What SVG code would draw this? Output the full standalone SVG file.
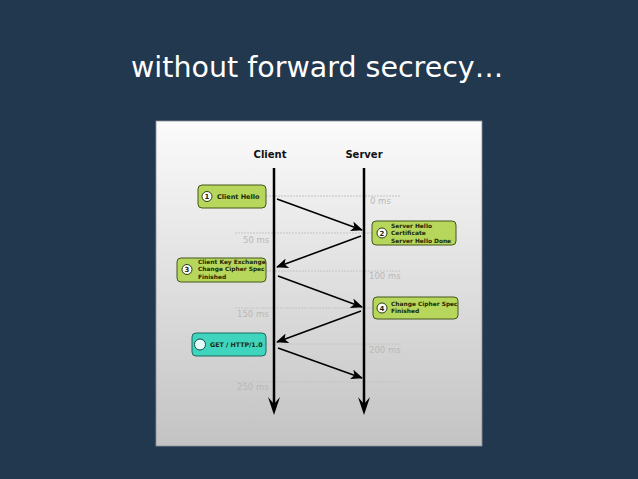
<svg xmlns="http://www.w3.org/2000/svg" width="638" height="479" viewBox="0 0 638 479">
<defs>
<linearGradient id="panel" x1="0" y1="0" x2="0" y2="1">
<stop offset="0" stop-color="#fbfbfb"/>
<stop offset="1" stop-color="#c3c3c3"/>
</linearGradient>
<marker id="ah" viewBox="0 0 12 10" refX="11" refY="5" markerWidth="12" markerHeight="10" markerUnits="userSpaceOnUse" orient="auto">
<path d="M0,0 L12,5 L0,10 L3,5 Z" fill="#000"/>
</marker>
</defs>
<style>
.title{font-family:"DejaVu Sans",Verdana,sans-serif;font-size:28.5px;fill:#ffffff}
.head{font-family:"DejaVu Sans",Verdana,sans-serif;font-size:10px;font-weight:bold;fill:#111}
.ms{font-family:"DejaVu Sans",Verdana,sans-serif;font-size:8.5px;fill:#b8b8b8}
.tl{stroke:#c4c4c4;stroke-width:1;stroke-dasharray:2 1}
.life{stroke:#000;stroke-width:2.5}
.msg{stroke:#000;stroke-width:1.6;fill:none}
.g{fill:#b6d75b;stroke:#44561a;stroke-width:1}
.t{fill:#3ed4be;stroke:#1b6c5e;stroke-width:1}
.lbl{font-family:"DejaVu Sans",Verdana,sans-serif;font-weight:bold;fill:#1c2808}
.num{font-family:"DejaVu Sans",Verdana,sans-serif;font-weight:bold;font-size:7px;fill:#1c2808;text-anchor:middle}
.c{fill:#fff;stroke:#2e3a10;stroke-width:1}
</style>
<rect width="638" height="479" fill="#22384f"/>
<text class="title" x="131" y="77">without forward secrecy…</text>
<rect x="156" y="121" width="326" height="325" fill="url(#panel)" stroke="#8a9099" stroke-width="0.8"/>
<g id="timeline">
<line class="tl" x1="266" y1="196" x2="400" y2="196"/>
<line class="tl" x1="235" y1="233" x2="372" y2="233"/>
<line class="tl" x1="266" y1="271" x2="400" y2="271"/>
<line class="tl" x1="235" y1="308" x2="373" y2="308"/>
<line class="tl" x1="266" y1="344" x2="400" y2="344"/>
<line class="tl" x1="235" y1="382" x2="400" y2="382"/>
<text class="ms" x="370" y="204">0 ms</text>
<text class="ms" x="243" y="243">50 ms</text>
<text class="ms" x="369" y="279">100 ms</text>
<text class="ms" x="237" y="317">150 ms</text>
<text class="ms" x="369" y="353">200 ms</text>
<text class="ms" x="237" y="390">250 ms</text>
</g>
<g id="client">
<text class="head" x="270" y="158" text-anchor="middle">Client</text>
<line class="life" x1="274" y1="168" x2="274" y2="405"/>
<path d="M274,415 L268,397 L274,404 L280,397 Z" fill="#000"/>
</g>
<g id="server">
<text class="head" x="364" y="158" text-anchor="middle">Server</text>
<line class="life" x1="364" y1="168" x2="364" y2="405"/>
<path d="M364,415 L358,397 L364,404 L370,397 Z" fill="#000"/>
</g>
<g id="connectors">
<line class="msg" x1="277" y1="199" x2="362" y2="230" marker-end="url(#ah)"/>
<line class="msg" x1="361" y1="236" x2="277" y2="267" marker-end="url(#ah)"/>
<line class="msg" x1="278" y1="276" x2="362" y2="307" marker-end="url(#ah)"/>
<line class="msg" x1="361" y1="311" x2="277" y2="342" marker-end="url(#ah)"/>
<line class="msg" x1="278" y1="348" x2="362" y2="378" marker-end="url(#ah)"/>
</g>
<g id="step1">
<rect class="g" x="198" y="185" width="68" height="23" rx="4"/>
<circle class="c" cx="207" cy="196.5" r="5"/>
<text class="num" x="207" y="199">1</text>
<text class="lbl" x="217" y="199" font-size="6.5">Client Hello</text>
</g>
<g id="step2">
<rect class="g" x="372" y="221" width="84" height="24" rx="4"/>
<circle class="c" cx="382" cy="233" r="5"/>
<text class="num" x="382" y="235.5">2</text>
<text class="lbl" x="391" y="227.5" font-size="5.9">Server Hello</text>
<text class="lbl" x="391" y="235" font-size="5.9">Certificate</text>
<text class="lbl" x="391" y="242.5" font-size="5.9">Server Hello Done</text>
</g>
<g id="step3">
<rect class="g" x="177" y="258" width="89" height="24" rx="4"/>
<circle class="c" cx="187" cy="269.5" r="5"/>
<text class="num" x="187" y="272">3</text>
<text class="lbl" x="198" y="263.5" font-size="5.9">Client Key Exchange</text>
<text class="lbl" x="198" y="271" font-size="5.9">Change Cipher Spec</text>
<text class="lbl" x="198" y="278.5" font-size="5.9">Finished</text>
</g>
<g id="step4">
<rect class="g" x="373" y="297" width="85" height="22" rx="4"/>
<circle class="c" cx="382" cy="308" r="5"/>
<text class="num" x="382" y="310.5">4</text>
<text class="lbl" x="391" y="306" font-size="5.9">Change Cipher Spec</text>
<text class="lbl" x="391" y="313" font-size="5.9">Finished</text>
</g>
<g id="step5">
<rect class="t" x="192" y="333" width="74" height="23" rx="4"/>
<circle cx="200" cy="344.5" r="5.5" fill="#e2fbf8" stroke="#1b4a42" stroke-width="1"/>
<text class="lbl" x="210" y="347" font-size="6.3" fill="#0e2b26">GET / HTTP/1.0</text>
</g>
</svg>
